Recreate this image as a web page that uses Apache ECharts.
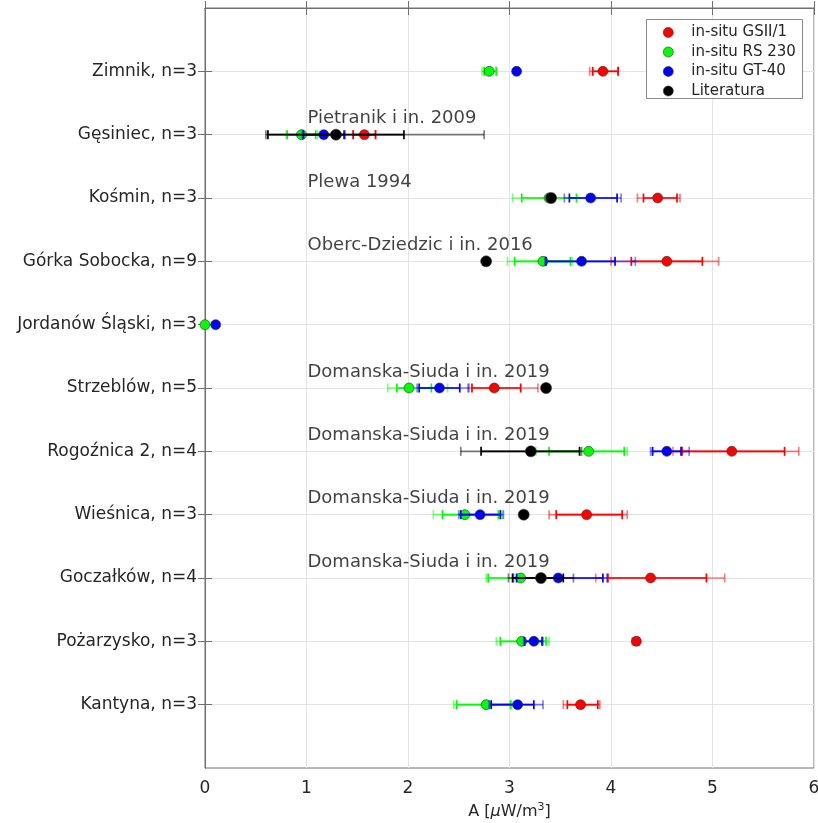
<!DOCTYPE html>
<html>
<head>
<meta charset="utf-8">
<script src="https://cdn.jsdelivr.net/npm/echarts@6/dist/echarts.min.js"></script>
<style>
  html, body { margin: 0; padding: 0; background: #fff; }
  #chart { width: 818px; height: 823px; }
</style>
</head>
<body>
<div id="chart"></div>
<script>
// Sites, top to bottom
const categories = [
  'Zimnik, n=3', 'Gęsiniec, n=3', 'Kośmin, n=3', 'Górka Sobocka, n=9',
  'Jordanów Śląski, n=3', 'Strzeblów, n=5', 'Rogoźnica 2, n=4', 'Wieśnica, n=3',
  'Goczałków, n=4', 'Pożarzysko, n=3', 'Kantyna, n=3'
];
const xTicks = [0, 1, 2, 3, 4, 5, 6];

// in-situ GSII/1
const gsMean  = [3.92, 1.57, 4.46, 4.55, null, 2.85, 5.19, 3.76, 4.39, 4.25, 3.70];
const gsInner = [[3.82, 4.07], [1.46, 1.68], [4.32, 4.65], [4.20, 4.90], null, [2.63, 3.11], [4.70, 5.71], [3.46, 4.11], [3.97, 4.94], [4.23, 4.27], [3.57, 3.87]];
const gsOuter = [[3.79, 4.07], [1.46, 1.68], [4.26, 4.68], [4.00, 5.06], null, [2.59, 3.28], [4.61, 5.85], [3.39, 4.16], [3.85, 5.12], [4.21, 4.28], [3.53, 3.89]];

// in-situ RS 230
const rsMean  = [2.80, 0.95, 3.39, 3.33, 0.00, 2.01, 3.78, 2.56, 3.11, 3.12, 2.77];
const rsInner = [[2.75, 2.87], [0.81, 1.09], [3.12, 3.66], [3.05, 3.60], null, [1.89, 2.23], [3.39, 4.13], [2.34, 2.89], [2.79, 3.29], [2.91, 3.36], [2.48, 3.01]];
const rsOuter = [[2.73, 2.87], [0.80, 1.11], [3.03, 3.76], [2.98, 3.62], null, [1.80, 2.39], [3.26, 4.16], [2.25, 2.93], [2.77, 3.31], [2.87, 3.39], [2.45, 3.02]];

// in-situ GT-40
const gtMean  = [3.07, 1.17, 3.80, 3.71, 0.105, 2.31, 4.55, 2.71, 3.48, 3.24, 3.08];
const gtInner = [[3.06, 3.08], [0.97, 1.37], [3.59, 4.06], [3.36, 4.04], null, [2.11, 2.51], [4.41, 4.69], [2.52, 2.91], [3.07, 3.92], [3.15, 3.32], [2.82, 3.24]];
const gtOuter = [[3.05, 3.09], [0.96, 1.38], [3.54, 4.10], [3.35, 4.24], null, [2.09, 2.60], [4.39, 4.77], [2.50, 2.94], [3.04, 3.96], [3.14, 3.33], [2.80, 3.33]];

// Literatura
const litMean  = [null, 1.29, 3.41, 2.77, null, 3.36, 3.21, 3.14, 3.31, null, null];
const litInner = [null, [0.62, 1.96], null, null, null, null, [2.72, 3.69], null, [3.03, 3.53], null, null];
const litOuter = [null, [0.60, 2.75], null, null, null, null, [2.52, 3.71], null, [2.99, 3.63], null, null];

// Source notes written above the rows (1-based row numbers)
const noteRows  = [2, 3, 4, 6, 7, 8, 9];
const noteTexts = ['Pietranik i in. 2009', 'Plewa 1994', 'Oberc-Dziedzic i in. 2016',
  'Domanska-Siuda i in. 2019', 'Domanska-Siuda i in. 2019', 'Domanska-Siuda i in. 2019', 'Domanska-Siuda i in. 2019'];

const FONT = 'DejaVu Sans';
const TEXT = '#262626';
const rowTicks = categories.map((c, i) => i + 1);

function buildSeries(name, color, mean, inner, outer, radius) {
  const data = [];
  mean.forEach((m, i) => { if (m !== null) data.push([m, i + 1, i]); });
  return {
    type: 'custom',
    name: name,
    clip: false,
    itemStyle: { color: color },
    data: data,
    encode: { x: 0, y: 1 },
    renderItem: function (params, api) {
      const idx = api.value(2);
      const yv = api.value(1);
      const children = [];
      const bar = (range, opacity) => {
        if (!range) return;
        const a = api.coord([range[0], yv]);
        const b = api.coord([range[1], yv]);
        const st = { stroke: color, lineWidth: 1.7, opacity: opacity };
        children.push({ type: 'line', shape: { x1: a[0], y1: a[1], x2: b[0], y2: b[1] }, style: st });
        children.push({ type: 'line', shape: { x1: a[0], y1: a[1] - 4.5, x2: a[0], y2: a[1] + 4.5 }, style: st });
        children.push({ type: 'line', shape: { x1: b[0], y1: b[1] - 4.5, x2: b[0], y2: b[1] + 4.5 }, style: st });
      };
      bar(outer[idx], 0.5);
      bar(inner[idx], 1);
      const c = api.coord([api.value(0), yv]);
      children.push({
        type: 'circle',
        shape: { cx: c[0], cy: c[1], r: radius },
        style: { fill: color, stroke: '#303030', lineWidth: 0.6 }
      });
      return { type: 'group', children: children };
    }
  };
}

const notesSeries = {
  type: 'scatter',
  name: 'notes',
  symbolSize: 0,
  silent: true,
  data: noteRows.map((r, k) => ({ value: [1.0, r], label: { formatter: noteTexts[k] } })),
  label: {
    show: true, position: 'right', distance: 1, offset: [0, -16],
    fontFamily: FONT, fontSize: 18, color: '#111111'
  }
};

const axisColor = '#707070';
const gridLine = { show: true, lineStyle: { color: '#e3e3e3', width: 1 } };

const option = {
  backgroundColor: '#ffffff',
  animation: false,
  grid: {
    left: 205, right: 4, top: 8, bottom: 55,
    outerBoundsMode: 'none', containLabel: false,
    show: true, borderColor: axisColor, borderWidth: 1
  },
  // legend frame
  graphic: [{
    type: 'rect', z: 3, silent: true,
    shape: { x: 646.5, y: 19.5, width: 156, height: 79 },
    style: { fill: '#ffffff', stroke: '#8a8a8a', lineWidth: 1 }
  }],
  legend: {
    orient: 'vertical',
    left: 646, top: 19, z: 4,
    padding: [4, 4, 0, 17],
    itemGap: 0.5,
    itemWidth: 36, itemHeight: 10,
    backgroundColor: 'transparent',
    borderWidth: 0,
    textStyle: { fontFamily: FONT, fontSize: 15, color: TEXT, lineHeight: 19 },
    data: [
      { name: 'in-situ GSII/1', icon: 'circle', itemStyle: { color: '#ff0000', borderColor: '#303030', borderWidth: 0.6 } },
      { name: 'in-situ RS 230', icon: 'circle', itemStyle: { color: '#00ff00', borderColor: '#303030', borderWidth: 0.6 } },
      { name: 'in-situ GT-40', icon: 'circle', itemStyle: { color: '#0000ff', borderColor: '#303030', borderWidth: 0.6 } },
      { name: 'Literatura', icon: 'circle', itemStyle: { color: '#000000', borderColor: '#303030', borderWidth: 0.6 } }
    ]
  },
  xAxis: [{
    type: 'value', min: xTicks[0], max: xTicks[xTicks.length - 1], interval: 1,
    axisLine: { show: true, lineStyle: { color: axisColor } },
    axisTick: { show: true, inside: true, length: 7, lineStyle: { color: axisColor } },
    axisLabel: { fontFamily: FONT, fontSize: 17, color: TEXT, margin: 12 },
    splitLine: gridLine,
    name: '{t|A [}{m|μ}{t|W/m}{s|3}{t|]}',
    nameLocation: 'middle', nameGap: 34,
    nameTextStyle: {
      rich: {
        t: { fontFamily: FONT, fontSize: 16, color: TEXT },
        m: { fontFamily: FONT, fontSize: 16, color: TEXT, fontStyle: 'italic' },
        s: { fontFamily: FONT, fontSize: 11, color: TEXT, padding: [0, 0, 9, 0] }
      }
    }
  }, {
    type: 'value', position: 'top', min: xTicks[0], max: xTicks[xTicks.length - 1], interval: 1,
    axisLine: { show: true, lineStyle: { color: axisColor } },
    axisTick: { show: true, inside: true, length: 7, lineStyle: { color: axisColor } },
    axisLabel: { show: false }, splitLine: { show: false }
  }],
  yAxis: [{
    type: 'value', min: 0, max: 12, interval: 1, inverse: true,
    axisLine: { show: true, lineStyle: { color: axisColor } },
    axisTick: { show: true, inside: true, length: 7, customValues: rowTicks, lineStyle: { color: axisColor } },
    axisLabel: {
      fontFamily: FONT, fontSize: 17, color: TEXT, margin: 8,
      formatter: v => categories[v - 1] || ''
    },
    splitLine: gridLine
  }, {
    type: 'value', position: 'right', min: 0, max: 12, interval: 1, inverse: true,
    axisLine: { show: true, lineStyle: { color: axisColor } },
    axisTick: { show: true, inside: true, length: 7, customValues: rowTicks, lineStyle: { color: axisColor } },
    axisLabel: { show: false }, splitLine: { show: false }
  }],
  series: [
    buildSeries('in-situ GSII/1', '#ff0000', gsMean, gsInner, gsOuter, 5),
    buildSeries('in-situ RS 230', '#00ff00', rsMean, rsInner, rsOuter, 5),
    buildSeries('in-situ GT-40', '#0000ff', gtMean, gtInner, gtOuter, 5),
    buildSeries('Literatura', '#000000', litMean, litInner, litOuter, 5.5),
    notesSeries
  ]
};

const chart = echarts.init(document.getElementById('chart'), null, { renderer: 'canvas' });
chart.setOption(option);
</script>
</body>
</html>
